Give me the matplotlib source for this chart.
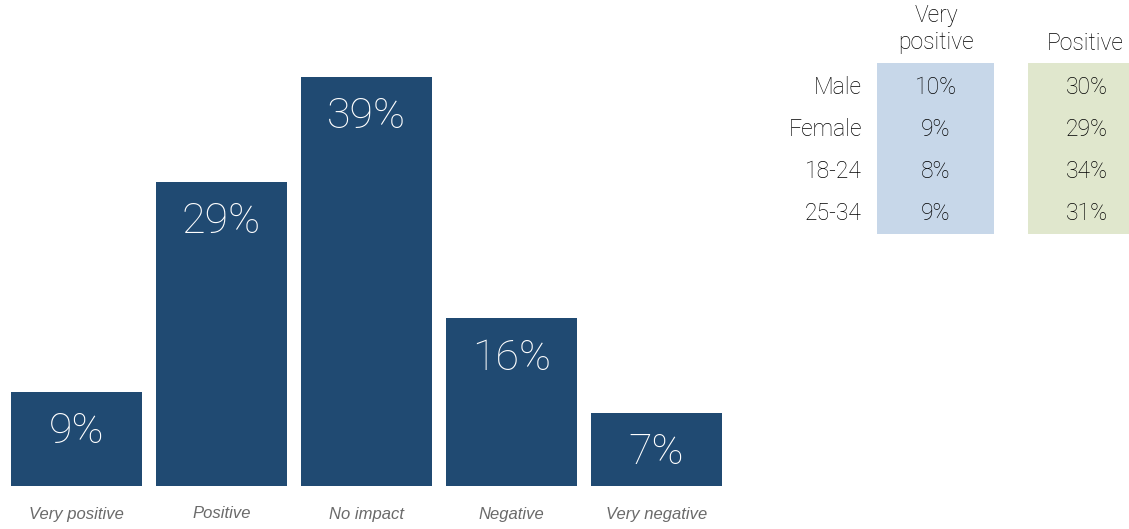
import matplotlib
matplotlib.use("Agg")
import matplotlib.pyplot as plt
from matplotlib.patches import Rectangle

# Data
categories = ['Very positive', 'Positive', 'No impact', 'Negative', 'Very negative']
values = [9, 29, 39, 16, 7]

row_labels = ['Male', 'Female', '18-24', '25-34']
very_positive = [10, 9, 8, 9]
positive = [30, 29, 34, 31]

W, H = 1129, 529
fig = plt.figure(figsize=(W / 100, H / 100), dpi=100)

# Bar chart
ax = fig.add_axes([4 / W, (H - 486) / H, 725 / W, 409 / H])
ax.bar(range(len(values)), values, width=0.91, color='#204a72')
ax.set_xlim(-0.5, len(values) - 0.5)
ax.set_ylim(0, 39)
ax.axis('off')

for i, v in enumerate(values):
    ax.annotate(f'{v}%', (i, v), xytext=(0, -40), textcoords='offset pixels',
                ha='center', va='center', color='white', fontsize=31,
                family='Roboto', fontweight='light')
    ax.annotate(categories[i], (i, 0), xytext=(0, -28), textcoords='offset pixels',
                ha='center', va='center', color='#6a6a6a', fontsize=12,
                family='Liberation Sans', style='italic')

# Table on the right, drawn in pixel coordinates
tx = fig.add_axes([0, 0, 1, 1])
tx.set_xlim(0, W)
tx.set_ylim(H, 0)
tx.axis('off')

tx.add_patch(Rectangle((877, 63), 117, 171, color='#c7d7e9', lw=0))
tx.add_patch(Rectangle((1028, 63), 101, 171, color='#e0e7cd', lw=0))

txt = dict(color='#000000', fontsize=16.5, family='Roboto', fontweight='light', va='center')
tx.text(936, 29, 'Very\npositive', ha='center', linespacing=1.25, **txt)
tx.text(1085, 43, 'Positive', ha='center', **txt)

row_y = [87, 129, 171, 213]
for y, lab, vp, p in zip(row_y, row_labels, very_positive, positive):
    tx.text(862, y, lab, ha='right', **txt)
    tx.text(936, y, f'{vp}%', ha='center', **txt)
    tx.text(1108, y, f'{p}%', ha='right', **txt)

fig.savefig('out.png', dpi=100)
